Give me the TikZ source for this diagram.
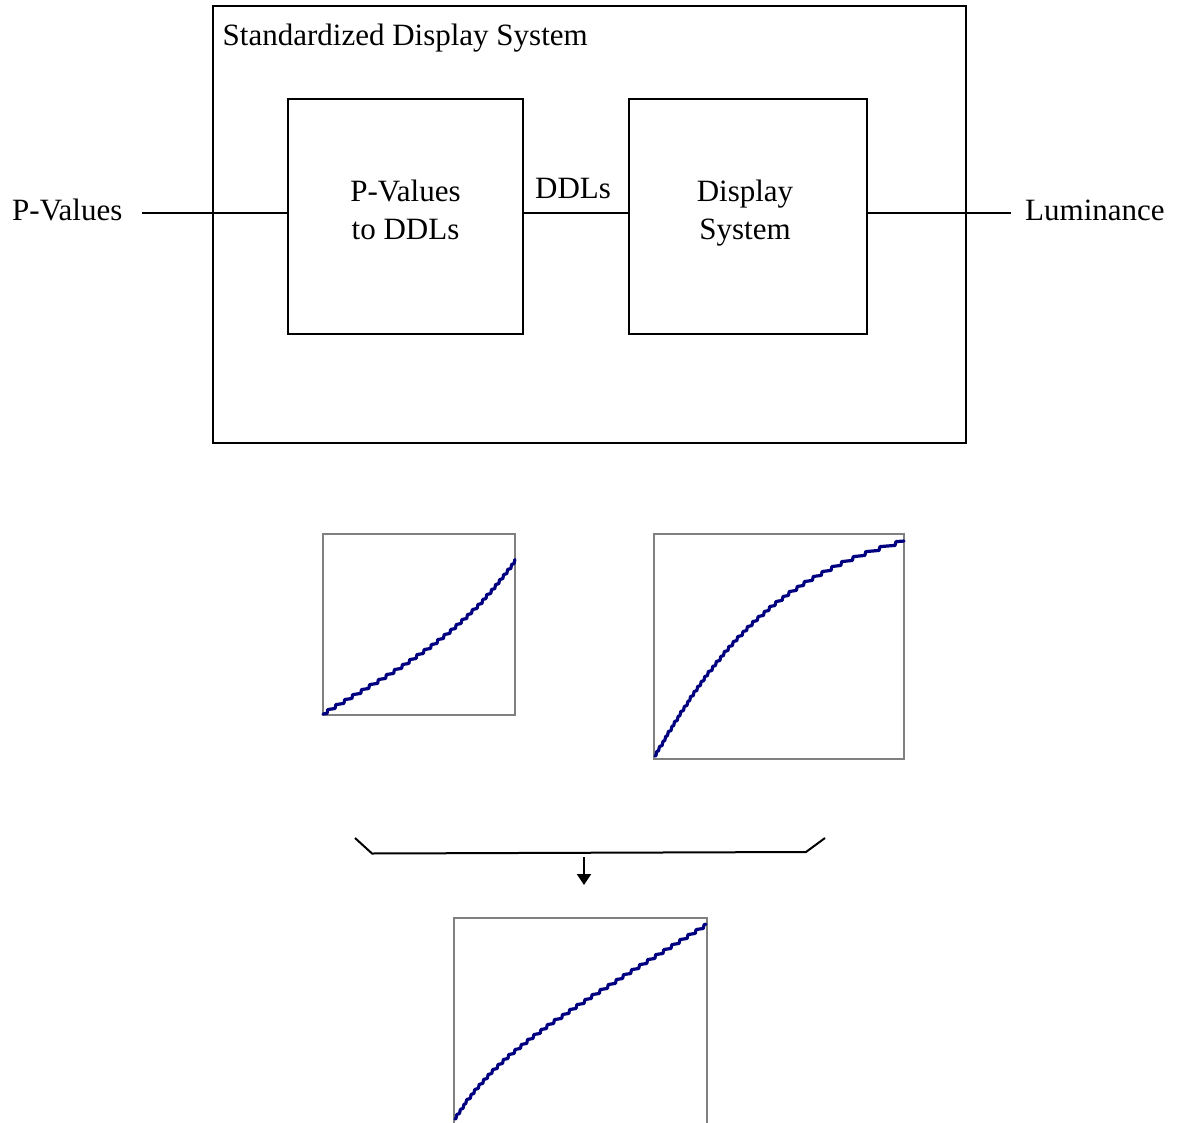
\documentclass[tikz,border=0pt]{standalone}
\usepackage{fontspec}
\setmainfont{Liberation Serif}
\usetikzlibrary{arrows.meta}
\definecolor{curvecol}{RGB}{0,0,128}
\definecolor{framegray}{RGB}{128,128,128}
\tikzset{
  blk/.style={draw=black, line width=2pt, minimum width=#1, inner sep=0pt},
  lbl/.style={font=\fontsize{31}{37}\selectfont, inner sep=0pt, text=black},
  gbox/.style={draw=framegray, line width=2pt, inner sep=0pt},
  wire/.style={draw=black, line width=2pt},
  curve/.style={draw=curvecol, line width=3.2pt, line join=round, line cap=round},
}
\begin{document}
\begin{tikzpicture}[x=1pt, y=-1pt]
\useasboundingbox (0,0) rectangle (1178,1123);
% outer system box
\node[blk=753pt, minimum height=437pt] (sys) at (589.5,224.5) {};
\node[lbl, anchor=base west] (title) at (222.5,45.5) {Standardized Display System};
% inner blocks
\node[blk=235pt, minimum height=235pt] (pv2ddl) at (405.5,216.5) {};
\node[blk=238pt, minimum height=235pt] (disp) at (748,216.5) {};
\node[lbl, anchor=base] (t1a) at (405.5,202) {P-Values};
\node[lbl, anchor=base] (t1b) at (405.5,240) {to DDLs};
\node[lbl, anchor=base] (t2a) at (745,202) {Display};
\node[lbl, anchor=base] (t2b) at (745,240) {System};
% signals
\node[lbl, anchor=base west] (pin) at (12,221) {P-Values};
\node[lbl, anchor=base west] (lout) at (1025,221) {Luminance};
\node[lbl, anchor=base] (ddl) at (573,199) {DDLs};
\coordinate (win) at (142,213);
\coordinate (wout) at (1011,213);
\draw[wire] (win) -- (win -| pv2ddl.west);
\draw[wire] (pv2ddl.east |- win) -- (disp.west |- win);
\draw[wire] (disp.east |- win) -- (wout);
% graph 1
\node[gbox, minimum width=192pt, minimum height=181pt] (g1) at (419,624.5) {};
\draw[curve] plot[domain=0:1, samples=240]
  ({323+192*\x}, {714 - (181*(0.625*\x+0.22*\x^4)) - 0.75*(5*round(181*(0.625*\x+0.22*\x^4)/5) - 181*(0.625*\x+0.22*\x^4))});
% graph 2
\node[gbox, minimum width=250pt, minimum height=225pt] (g2) at (779,646.5) {};
\draw[curve] plot[domain=0:1, samples=280]
  ({655+249*\x}, {756 - (225*(1.105*(1-exp(-2*\x))-0.3*\x*exp(-6*\x))) - 0.75*(5*round(225*(1.105*(1-exp(-2*\x))-0.3*\x*exp(-6*\x))/5) - 225*(1.105*(1-exp(-2*\x))-0.3*\x*exp(-6*\x))))});
% bracket and arrow
\coordinate (bl) at (355,838);
\coordinate (b1) at (372,853.5);
\coordinate (b2) at (806,852);
\coordinate (br) at (825,838);
\coordinate (bm) at (584,857);
\coordinate (ah) at (584,885);
\draw[wire] (bl) -- (b1) -- (b2) -- (br);
\draw[wire, -{Triangle[width=14pt, length=11pt]}] (bm) -- (ah);
% graph 3
\node[gbox, minimum width=253pt, minimum height=212pt] (g3) at (580.5,1024) {};
\draw[curve] plot[domain=0:1, samples=280]
  ({455+251*\x}, {1119 - (194*(0.8*\x+0.2*(1-exp(-\x/0.15)))) - 0.75*(5*round(194*(0.8*\x+0.2*(1-exp(-\x/0.15)))/5) - 194*(0.8*\x+0.2*(1-exp(-\x/0.15)))))});
\end{tikzpicture}
\end{document}
